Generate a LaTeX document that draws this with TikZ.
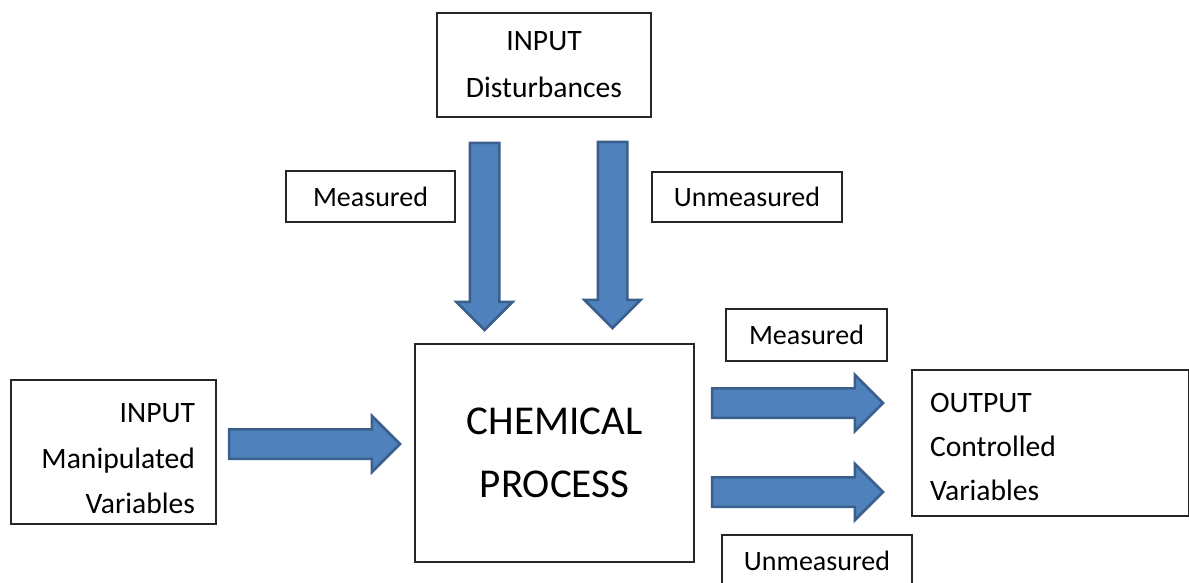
\documentclass[tikz,border=0pt]{standalone}
\usepackage{fontspec}
\setmainfont{Carlito}
\usetikzlibrary{shapes.arrows}
\definecolor{arrowfill}{HTML}{4F81BD}
\definecolor{arrowline}{HTML}{3A5F8C}
\tikzset{
  box/.style={draw=black!85, line width=0.75pt, inner sep=0pt, outer sep=0pt},
  tag/.style={box, font=\fontsize{14}{17}\selectfont},
  bigarrow/.style={single arrow, fill=arrowfill, draw=arrowline, line width=1.25pt,
    inner xsep=0pt, inner ysep=6.75pt, outer sep=0pt, anchor=tail,
    single arrow head extend=6.75pt, minimum height=#1},
}
\begin{document}
\begin{tikzpicture}[x=0.5pt,y=-0.5pt]
\useasboundingbox (0,0) rectangle (1189,583);
%boxes
\node[box, minimum width=107pt, minimum height=52pt, align=center,
  font=\fontsize{14.8}{23.5}\selectfont] (dist) at (544,65) {INPUT\\Disturbances};
\node[tag, minimum width=84.5pt, minimum height=25.5pt] (meastop) at (370.5,196.5) {Measured};
\node[tag, minimum width=95pt, minimum height=25pt] (unmeastop) at (747,197) {Unmeasured};
\node[box, minimum width=139.5pt, minimum height=109pt, align=center,
  font=\fontsize{20.5}{31.5}\selectfont] (proc) at (554.5,453) {CHEMICAL\\PROCESS};
\node[box, minimum width=102.5pt, minimum height=72pt, text width=81.5pt, inner xsep=10.5pt,
  align=right, font=\fontsize{14.8}{22.75}\selectfont] (manip) at (113.5,452)
  {\rule{0pt}{16.5pt}INPUT\\Manipulated\\Variables};
\node[tag, minimum width=80.5pt, minimum height=26pt] (measright) at (806.5,335) {Measured};
\node[box, minimum width=138.5pt, minimum height=73pt, text width=120.5pt, inner xsep=9pt,
  align=left, font=\fontsize{14.8}{22}\selectfont] (output) at (1050.5,443)
  {\rule{0pt}{13.5pt}OUTPUT\\Controlled\\Variables};
\node[tag, minimum width=95pt, minimum height=26pt] (unmeasbot) at (817,561) {Unmeasured};

%block arrows
\node[bigarrow=93.5pt, rotate=-90] (downa) at (484.5,143) {};
\node[bigarrow=93pt, rotate=-90] (downb) at (612.5,142) {};
\node[bigarrow=85.5pt] (ina) at (229,444) {};
\node[bigarrow=85.5pt] (outa) at (712,403) {};
\node[bigarrow=85.5pt] (outb) at (712,492) {};
\end{tikzpicture}
\end{document}
